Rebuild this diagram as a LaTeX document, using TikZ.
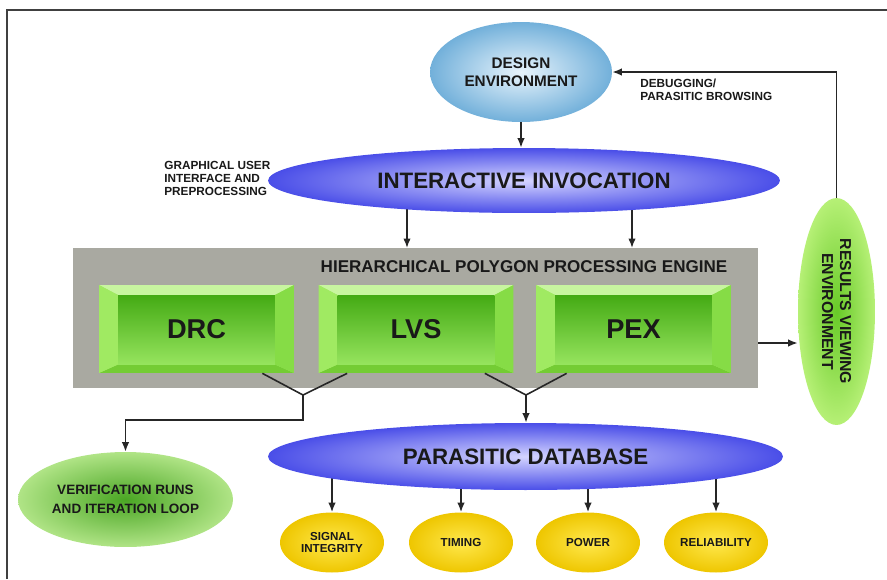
\documentclass[tikz,border=0pt]{standalone}
\usepackage{fontspec}
\setmainfont{Liberation Sans}
\usetikzlibrary{shapes.geometric,arrows.meta,backgrounds}

\definecolor{dsgnin}{HTML}{E8F4FC}
\definecolor{dsgnout}{HTML}{72B0DA}
\definecolor{violin}{HTML}{D4D4FF}
\definecolor{violout}{HTML}{4A4EE8}
\definecolor{panelgray}{HTML}{A9A9A1}
\definecolor{bevtop}{HTML}{C8F5A0}
\definecolor{bevleft}{HTML}{A0EA62}
\definecolor{bevright}{HTML}{86DC46}
\definecolor{bevbot}{HTML}{74CC34}
\definecolor{facetop}{HTML}{44AA14}
\definecolor{facebot}{HTML}{96E45E}
\definecolor{limein}{HTML}{68CA28}
\definecolor{limeout}{HTML}{B6F076}
\definecolor{leafin}{HTML}{4AA624}
\definecolor{leafout}{HTML}{B0E486}
\definecolor{sunin}{HTML}{FFE84C}
\definecolor{sunout}{HTML}{EEC600}

\begin{document}
\begin{tikzpicture}[x=0.02cm,y=-0.02cm,
    arr/.style={-{Latex[length=1.9mm,width=1.5mm]},line width=0.9pt,draw=black!85},
    wire/.style={line width=0.9pt,draw=black!85},
    blob/.style={ellipse,inner sep=0pt,align=center,text=black!90},
    bigtxt/.style={font=\bfseries\fontsize{12.7}{14}\selectfont},
    smalltxt/.style={font=\bfseries\fontsize{6.7}{7.4}\selectfont,align=left,text=black!90,inner sep=0pt},
    sunblob/.style={blob,inner color=sunin,outer color=sunout,minimum width=2.08cm,minimum height=1.2cm,
        font=\bfseries\fontsize{6.6}{7.2}\selectfont},
    greenbox/.style={rectangle,inner sep=0pt,minimum width=3.9cm,minimum height=1.76cm,fill=bevleft,
        font=\bfseries\fontsize{15.5}{16}\selectfont,text=black!90,
        path picture={
            \path (path picture bounding box.north west) coordinate (bnw)
                  (path picture bounding box.south east) coordinate (bse);
            \path ([shift={(0.38cm,-0.2cm)}]bnw) coordinate (inw)
                  ([shift={(-0.38cm,0.17cm)}]bse) coordinate (ise);
            \fill[bevtop] (bnw) -- (bnw -| bse) -- (inw -| ise) -- (inw) -- cycle;
            \fill[bevbot] (bse) -- (bse -| bnw) -- (ise -| inw) -- (ise) -- cycle;
            \fill[bevleft] (bnw) -- (inw) -- (ise -| inw) -- (bse -| bnw) -- cycle;
            \fill[bevright] (bnw -| bse) -- (bse) -- (ise) -- (inw -| ise) -- cycle;
            \shade[top color=facetop,bottom color=facebot] (inw) rectangle (ise);
        }}]

\useasboundingbox (0,0) rectangle (887,579);
\draw[line width=0.8pt,black!75] (7,579) -- (7,10) -- (887,10);

\node[blob,inner color=dsgnin,outer color=dsgnout,minimum width=3.64cm,minimum height=2cm,
      font=\bfseries\fontsize{8.7}{10.2}\selectfont] (design) at (521,72) {DESIGN\\ENVIRONMENT};
\node[blob,bigtxt,inner color=violin,outer color=violout,minimum width=10.24cm,minimum height=1.3cm]
      (invoke) at (524,180.5) {INTERACTIVE INVOCATION};
\node[smalltxt,anchor=west] (gui) at (164,178) {GRAPHICAL USER\\INTERFACE AND\\PREPROCESSING};
\node[smalltxt,anchor=west] (dbg) at (640,90) {DEBUGGING/\\PARASITIC BROWSING};

% polygon engine
\node[fill=panelgray,inner sep=0pt,minimum width=13.7cm,minimum height=2.8cm] (engine) at (415.5,318) {};
\node[font=\bfseries\fontsize{9.7}{11}\selectfont,text=black!90,inner sep=0pt] (title) at (524,267)
      {HIERARCHICAL POLYGON PROCESSING ENGINE};
\node[greenbox] (drc) at (196.5,329) {DRC};
\node[greenbox] (lvs) at (416,329) {LVS};
\node[greenbox] (pex) at (633.5,329) {PEX};

\node[blob,inner color=limein,outer color=limeout,minimum width=4.54cm,minimum height=1.54cm,rotate=-90,
      font=\bfseries\fontsize{9}{10.2}\selectfont] (results) at (836.5,311.5) {RESULTS VIEWING\\ENVIRONMENT};
\node[blob,inner color=leafin,outer color=leafout,minimum width=4.3cm,minimum height=1.9cm,
      font=\bfseries\fontsize{7.7}{10.8}\selectfont] (verify) at (125.5,499.5) {VERIFICATION RUNS\\AND ITERATION LOOP};
\node[blob,bigtxt,inner color=violin,outer color=violout,minimum width=10.3cm,minimum height=1.34cm]
      (pdb) at (525.5,456.5) {PARASITIC DATABASE};

\node[sunblob] (sig) at (332,542.5) {SIGNAL\\INTEGRITY};
\node[sunblob] (tim) at (461,542.5) {TIMING};
\node[sunblob] (pow) at (588,542.5) {POWER};
\node[sunblob] (rel) at (716,542.5) {RELIABILITY};

\coordinate (tapA) at (407,248);
\coordinate (tapB) at (632,248);
\coordinate (joinA) at (303,395);
\coordinate (joinB) at (526,395);
\coordinate (feed) at (758,343);

\begin{scope}[on background layer]
    \draw[arr] (design) -- (design |- invoke.north);
    \draw[arr] (invoke.center -| tapA) -- (tapA);
    \draw[arr] (invoke.center -| tapB) -- (tapB);
    \foreach \n in {sig,tim,pow,rel}
        \draw[arr] (pdb.center -| \n.north) -- (\n.north);
\end{scope}

% results node is turned, so its west is on top and its south on the left
\draw[arr] (results.west) |- (design.east);
\draw[arr] (feed) -- (feed -| results.south);

\draw[wire] ([xshift=-0.64cm]drc.south east) -- (joinA) -- ([xshift=0.58cm]lvs.south west);
\draw[wire] ([xshift=-0.58cm]lvs.south east) -- (joinB) -- ([xshift=0.62cm]pex.south west);
\draw[arr] (joinA) -- ++(0,25) -| (verify.north);
\draw[arr] (joinB) -- (joinB |- pdb.north);

\end{tikzpicture}
\end{document}
